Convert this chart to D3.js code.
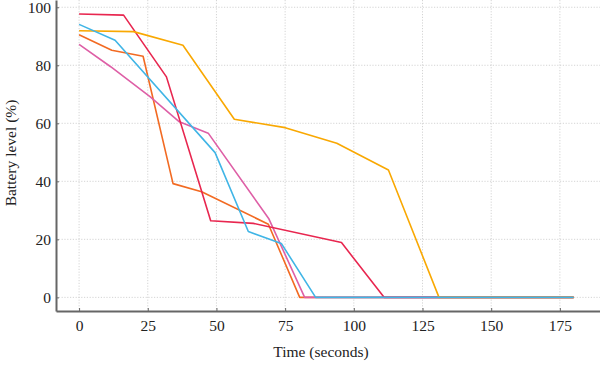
<!DOCTYPE html>
<html>
<head>
<meta charset="utf-8">
<script src="https://cdn.jsdelivr.net/npm/d3@7"></script>
<style>
  body { margin: 0; background: #fff; }
  svg text { font-family: "Liberation Serif", "DejaVu Serif", serif; fill: #222; }
</style>
</head>
<body>
<svg id="plot" width="600" height="365"></svg>
<script>
// tick values
const xTicks = [0, 25, 50, 75, 100, 125, 150, 175];
const yTicks = [0, 20, 40, 60, 80, 100];

// one array of [time, level] pairs per run
const runOrange = [[0, 90.5], [11.9, 85.2], [23.3, 83.1], [34.2, 39.2], [44.6, 36.4], [68.9, 25.2], [80.3, 0], [180, 0]];
const runPink = [[0, 87.2], [11.5, 79.5], [25.8, 69.2], [36.5, 60.5], [47, 56.6], [69, 27.2], [82.1, 0], [180, 0]];
const runRed = [[0, 97.7], [16.2, 97.3], [31.8, 76], [47.9, 26.4], [63.4, 25.5], [95.5, 18.9], [111, 0], [180, 0]];
const runYellow = [[0, 91.9], [19.8, 91.6], [37.8, 86.9], [56.5, 61.4], [75, 58.5], [93.8, 53.1], [112.6, 43.9], [131, 0], [180, 0]];
const runBlue = [[0, 94.1], [13.1, 88.6], [49.5, 49.9], [61.6, 22.7], [73.6, 18.6], [86.1, 0], [180, 0]];

const series = [
  { data: runOrange, color: "#f26a22" },
  { data: runPink, color: "#de5fa6" },
  { data: runRed, color: "#e8264f" },
  { data: runYellow, color: "#f9a802" },
  { data: runBlue, color: "#40b5e6" },
];

const svg = d3.select("#plot");
const box = { left: 56, right: 600, top: 0, bottom: 311 };

const x = d3.scaleLinear([-8.4, 189.6], [box.left, box.right]);
const y = d3.scaleLinear([-4.7, 102.5], [box.bottom, box.top]);

// dotted grid
const grid = svg.append("g").attr("stroke", "#c9c9c9").attr("stroke-width", 0.8).attr("stroke-dasharray", "1.2,1.6");
grid.selectAll(".vx").data(xTicks).join("line")
  .attr("x1", (d) => x(d)).attr("x2", (d) => x(d))
  .attr("y1", box.top).attr("y2", box.bottom);
grid.selectAll(".hy").data(yTicks).join("line")
  .attr("x1", box.left).attr("x2", box.right)
  .attr("y1", (d) => y(d)).attr("y2", (d) => y(d));

// lines
const line = d3.line().x((d) => x(d[0])).y((d) => y(d[1]));
svg.append("g").selectAll("path").data(series).join("path")
  .attr("d", (s) => line(s.data))
  .attr("fill", "none")
  .attr("stroke", (s) => s.color)
  .attr("stroke-width", 1.6)
  .attr("stroke-linejoin", "round");

// axes
const xAxis = svg.append("g")
  .attr("transform", `translate(0, ${box.bottom})`)
  .call(d3.axisBottom(x).tickValues(xTicks).tickSizeInner(-3).tickSizeOuter(0).tickPadding(9));
const yAxis = svg.append("g")
  .attr("transform", `translate(${box.left}, 0)`)
  .call(d3.axisLeft(y).tickValues(yTicks).tickSizeInner(-3).tickSizeOuter(0).tickPadding(5));

[xAxis, yAxis].forEach((a) => {
  a.select(".domain").attr("stroke", "#666").attr("stroke-width", 2);
  a.selectAll(".tick line").attr("stroke", "#666");
  a.selectAll("text").attr("font-size", 15.5).attr("fill", "#222")
    .attr("font-family", '"Liberation Serif", serif');
});

svg.append("text")
  .attr("x", 321).attr("y", 357)
  .attr("text-anchor", "middle")
  .attr("font-size", 15.5)
  .text("Time (seconds)");

svg.append("text")
  .attr("transform", "translate(16, 153) rotate(-90)")
  .attr("text-anchor", "middle")
  .attr("font-size", 15.5)
  .text("Battery level (%)");
</script>
</body>
</html>
